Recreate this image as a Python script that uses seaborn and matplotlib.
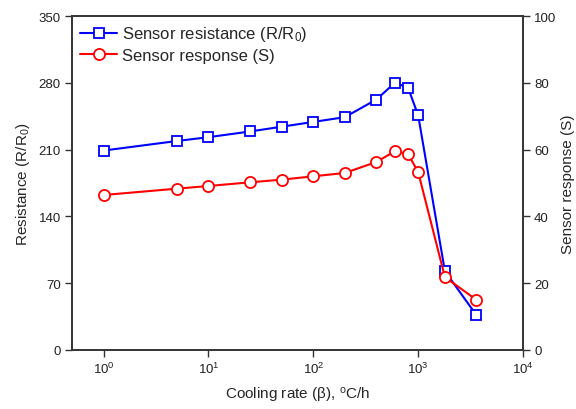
import numpy as np
import pandas as pd
import matplotlib
matplotlib.use("Agg")
import matplotlib.pyplot as plt
import matplotlib.ticker as mticker
import seaborn as sns

# Datos
velocidad = [1, 5, 10, 25, 50, 100, 200, 400, 600, 800, 1000, 1800, 3600]
resistencia = [209, 219, 223, 229, 234, 239, 244, 262.5, 280, 275, 246, 82.5, 36.4]
respuesta = [46.4, 48.3, 49.1, 50.2, 51.0, 52.0, 53.0, 56.3, 59.5, 58.7, 53.3, 21.8, 15.0]

df = pd.DataFrame({"beta": velocidad, "R": resistencia, "S": respuesta})

sns.set_style("ticks")
plt.rcParams["font.family"] = ["Liberation Sans", "DejaVu Sans"]
plt.rcParams["mathtext.default"] = "regular"

fig = plt.figure(figsize=(5.76, 4.10), dpi=100)
ax = fig.add_axes([0.125, 0.144, 0.783, 0.8145])
ax2 = ax.twinx()

sns.lineplot(data=df, x="beta", y="R", ax=ax, color="#0000ff", lw=1.5,
             marker="s", markersize=7, markerfacecolor="white",
             markeredgecolor="#0000ff", markeredgewidth=1.3,
             label="Sensor resistance (R/R$_0$)", legend=False)
sns.lineplot(data=df, x="beta", y="S", ax=ax2, color="#ff0000", lw=1.5,
             marker="o", markersize=8, markerfacecolor="white",
             markeredgecolor="#ff0000", markeredgewidth=1.3,
             label="Sensor response (S)", legend=False)

ax.set_xscale("log")
ax.set_xlim(0.5, 1e4)
ax.set_ylim(0, 350)
ax2.set_ylim(0, 100)
ax.set_yticks([0, 70, 140, 210, 280, 350])
ax2.set_yticks([0, 20, 40, 60, 80, 100])
ax.xaxis.set_major_locator(mticker.LogLocator(base=10, numticks=10))
ax.xaxis.set_minor_locator(mticker.NullLocator())
ax.xaxis.set_major_formatter(mticker.FuncFormatter(lambda v, p: "$10^{%d}$" % round(np.log10(v))))

for a in (ax, ax2):
    for s in a.spines.values():
        s.set_color("#333333")
        s.set_linewidth(1.2)
    a.tick_params(direction="out", length=5, width=1, colors="#333333",
                  labelsize=9.5, labelcolor="#222222", pad=3)

ax.set_xlabel("Cooling rate (β), $^o$C/h", fontsize=11, labelpad=6)
ax.set_ylabel("Resistance (R/R$_0$)", fontsize=11, labelpad=5)
ax2.set_ylabel("Sensor response (S)", fontsize=11, labelpad=3)

h1, l1 = ax.get_legend_handles_labels()
h2, l2 = ax2.get_legend_handles_labels()
ax.legend(h1 + h2, l1 + l2, loc="upper left", frameon=False, fontsize=12,
          handlelength=2.2, handletextpad=0.3, borderaxespad=0.1, labelspacing=0.25)

plt.savefig("out.png", dpi=100)
plt.close()
